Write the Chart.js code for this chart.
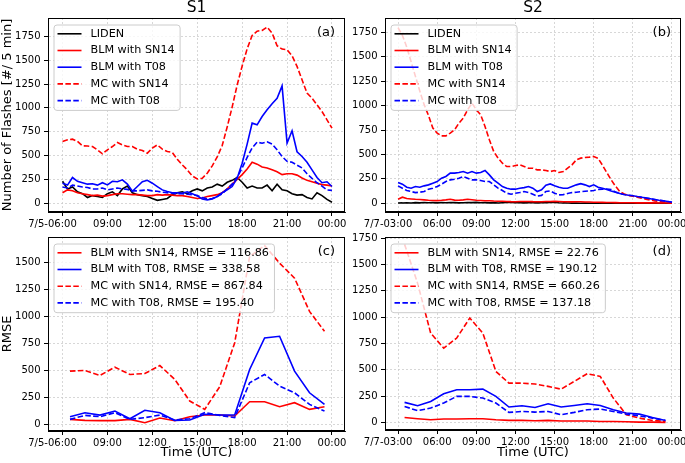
<!DOCTYPE html>
<html>
<head>
<meta charset="utf-8">
<script src="https://cdn.jsdelivr.net/npm/chart.js@4.4.1/dist/chart.umd.min.js"></script>
<style>
  html, body { margin: 0; padding: 0; background: #fff; }
  #wrap { position: relative; width: 685px; height: 463px; overflow: hidden; }
  #wrap canvas { position: absolute; }
</style>
</head>
<body>
<div id="wrap">
  <canvas id="chartA" width="360" height="232" style="left:0;top:0"></canvas>
  <canvas id="chartB" width="345" height="232" style="left:340px;top:0"></canvas>
  <canvas id="chartC" width="360" height="244" style="left:0;top:219px"></canvas>
  <canvas id="chartD" width="345" height="244" style="left:340px;top:219px"></canvas>
</div>
<script>
// ---- data ----
// x ticks (hours after panel start) and their labels
const xTicksS1 = [0, 3, 6, 9, 12, 15, 18];
const xLabelsS1 = ['7/5-06:00', '09:00', '12:00', '15:00', '18:00', '21:00', '00:00'];
const xTicksS2 = [0, 3, 6, 9, 12, 15, 18, 21];
const xLabelsS2 = ['7/7-03:00', '06:00', '09:00', '12:00', '15:00', '18:00', '21:00', '00:00'];
const yTicksFlash = [0, 250, 500, 750, 1000, 1250, 1500, 1750];
const yTicksRmseS1 = [0, 250, 500, 750, 1000, 1250, 1500];
const yTicksRmseS2 = [0, 250, 500, 750, 1000, 1250, 1500, 1750];

const seriesNames = ['LIDEN', 'BLM with SN14', 'BLM with T08', 'MC with SN14', 'MC with T08'];
const rmseNamesS1 = ['BLM with SN14, RMSE = 116.86', 'BLM with T08, RMSE = 338.58',
                     'MC with SN14, RMSE = 867.84', 'MC with T08, RMSE = 195.40'];
const rmseNamesS2 = ['BLM with SN14, RMSE = 22.76', 'BLM with T08, RMSE = 190.12',
                     'MC with SN14, RMSE = 660.26', 'MC with T08, RMSE = 137.18'];

// (a) S1 flashes per 5 min, sampled every 20 min from 7/5 06:00 to 00:00
const lidenS1 = [230,150,170,120,100,60,80,70,60,100,120,80,150,180,110,90,80,70,50,30,40,50,90,110,120,100,130,150,130,160,
                 170,200,180,220,240,270,220,160,180,160,160,190,130,200,140,130,100,85,90,60,45,110,80,40,10];
const blmSn14S1 = [110,140,130,110,100,90,80,85,75,80,90,100,100,95,90,90,85,80,80,90,85,90,85,80,80,70,60,50,55,70,
                   80,90,110,150,200,250,300,360,430,410,380,370,350,330,300,310,310,295,265,240,225,210,195,190,180];
const blmT08S1 = [210,190,270,230,215,200,205,190,215,192,230,225,245,200,125,175,225,240,210,175,140,122,110,110,105,120,100,77,45,35,
                  45,70,110,140,175,262,420,620,840,822,910,980,1043,1100,1230,630,760,540,490,430,350,270,215,225,175];
const mcSn14S1 = [648,665,672,648,602,600,595,560,518,560,595,637,612,595,595,567,553,525,578,612,567,543,532,462,402,350,287,255,262,315,
                  392,485,605,800,1010,1240,1440,1620,1760,1805,1813,1848,1785,1652,1617,1610,1547,1435,1295,1155,1102,1032,962,875,787];
const mcT08S1 = [170,160,190,180,170,165,150,150,160,140,150,160,150,145,130,130,135,140,130,125,115,110,105,100,100,95,90,80,60,45,
                 50,70,100,150,200,270,370,480,580,640,630,645,620,560,490,440,430,400,370,310,260,215,180,140,135];

// (b) S2 flashes per 5 min, sampled every 20 min from 7/7 03:00 to 00:00
const lidenS2 = [2,3,5,3,6,4,8,5,6,4,7,5,8,6,4,5,7,6,9,5,6,4,6,3,5,7,8,6,5,4,6,5,4,6,5,7,8,5,3,2,
                 1,1,0,1,0,0,0,0,0,0,0,0,0,0,0,0,0,0,0,0,0,0,0,0];
const blmSn14S2 = [41,62,48,44,40,38,34,30,28,27,30,34,40,32,30,34,40,35,30,28,25,25,22,20,20,18,16,15,17,18,18,16,
                   15,15,17,18,20,18,15,15,14,15,15,13,12,10,10,9,8,7,6,5,5,5,5,4,4,3,3,3,2,2,2,2];
const blmT08S2 = [212,195,164,154,171,164,178,188,205,222,256,274,308,308,315,325,308,325,308,315,335,290,239,205,171,154,144,144,154,160,171,154,
                  120,137,185,198,178,164,154,154,171,188,200,188,171,188,164,154,140,125,112,100,90,82,76,68,62,54,46,38,30,25,18,10];
const mcSn14S2 = [1800,1720,1600,1450,1300,1150,1010,900,770,718,690,690,718,752,820,872,957,1026,957,906,786,650,530,462,410,376,376,386,393,376,359,359,
                  342,342,335,325,335,315,325,359,393,445,462,468,472,479,460,390,315,240,175,120,95,80,72,62,52,42,33,24,17,11,6,3];
const mcT08S2 = [178,154,130,120,109,113,120,144,154,171,195,222,239,246,256,274,256,239,239,232,222,222,188,154,130,103,92,103,109,120,109,92,
                 72,80,120,126,103,85,88,100,109,113,118,122,126,130,140,144,144,140,115,100,90,82,76,68,62,54,46,38,30,24,17,10];

// (c) S1 hourly RMSE, 06:30 to 23:30
const rmseBlmSn14S1 = [46,37,34,34,46,15,59,34,71,86,86,77,210,210,164,201,139,164];
const rmseBlmT08S1 = [71,108,86,123,52,130,108,37,40,93,86,86,509,802,818,494,293,185];
const rmseMcSn14S1 = [494,500,454,531,463,472,546,417,216,139,349,756,1560,1660,1497,1358,1049,864];
const rmseMcT08S1 = [46,83,71,108,46,62,86,40,52,108,83,62,386,463,355,293,185,123];

// (d) S2 hourly RMSE, 03:30 to 23:30
const rmseBlmSn14S2 = [47,35,25,32,32,35,35,25,19,19,16,19,13,13,13,9,9,6,3,3,0];
const rmseBlmT08S2 = [190,158,199,272,310,310,316,247,146,158,142,177,146,161,177,161,120,89,79,47,19];
const rmseMcSn14S2 = [1690,1320,848,706,801,991,848,484,373,373,364,342,316,389,462,437,231,73,41,19,9];
const rmseMcT08S2 = [152,111,136,184,247,247,231,184,95,104,98,104,73,95,120,127,104,79,63,41,19];

// ---- helpers ----
const FONT = '"DejaVu Sans", sans-serif';

function toPoints(values, start, step) {
  return values.map((v, i) => ({ x: start + i * step, y: v }));
}

function line(label, data, color, dashed, order) {
  return {
    label: label, data: data, borderColor: color, backgroundColor: color,
    borderWidth: 1.6, borderDash: dashed ? [5.5, 2.4] : [], pointRadius: 0,
    tension: 0, fill: false, order: order
  };
}

// draws the top/right spines, panel tag, column title and a matplotlib-style legend
const mplDecor = {
  id: 'mplDecor',
  afterDatasetsDraw(chart, args, opts) {
    const ctx = chart.ctx;
    const a = chart.chartArea;
    ctx.save();

    ctx.strokeStyle = '#000';
    ctx.lineWidth = 1;
    ctx.setLineDash([]);
    ctx.strokeRect(Math.round(a.left) + 0.5, Math.round(a.top) + 0.5,
                   Math.round(a.right - a.left) - 1, Math.round(a.bottom - a.top) - 1);

    // legend
    const sets = chart.data.datasets;
    ctx.font = '11.2px ' + FONT;
    let maxW = 0;
    sets.forEach(d => { maxW = Math.max(maxW, ctx.measureText(d.label).width); });
    const bx = a.left + 5.5, by = a.top + 6.5;
    const bw = 37 + maxW + 5, bh = 18.6 + (sets.length - 1) * 16.7;
    ctx.beginPath();
    ctx.roundRect(bx + 0.5, by + 0.5, bw, bh, 3);
    ctx.fillStyle = 'rgba(255,255,255,0.8)';
    ctx.fill();
    ctx.strokeStyle = '#cccccc';
    ctx.stroke();
    sets.forEach((d, i) => {
      const yy = by + 9.3 + i * 16.7;
      ctx.beginPath();
      ctx.strokeStyle = d.borderColor;
      ctx.lineWidth = d.borderWidth;
      ctx.setLineDash(d.borderDash);
      ctx.moveTo(bx + 4, yy);
      ctx.lineTo(bx + 28, yy);
      ctx.stroke();
      ctx.setLineDash([]);
      ctx.fillStyle = '#000';
      ctx.textAlign = 'left';
      ctx.textBaseline = 'middle';
      ctx.fillText(d.label, bx + 37, yy);
    });

    // panel tag
    ctx.fillStyle = '#000';
    ctx.font = '13px ' + FONT;
    ctx.textAlign = 'right';
    ctx.textBaseline = 'middle';
    ctx.fillText(opts.tag, a.right - 10, a.top + 15);

    if (opts.title) {
      ctx.font = '15.5px ' + FONT;
      ctx.textAlign = 'center';
      ctx.fillText(opts.title, (a.left + a.right) / 2, 8);
    }
    ctx.restore();
  }
};

function makeChart(id, cfg) {
  const gridOpts = { color: '#cdcdcd', lineWidth: 0.8, tickColor: '#000', tickWidth: 1, tickLength: 4 };
  const borderOpts = { display: true, color: '#000', width: 1, dash: [2, 2] };
  return new Chart(document.getElementById(id).getContext('2d'), {
    type: 'line',
    data: { datasets: cfg.datasets },
    options: {
      responsive: false,
      animation: false,
      events: [],
      layout: { padding: { top: 18, right: cfg.padRight, left: 0, bottom: 0 } },
      scales: {
        x: {
          type: 'linear', min: cfg.xMin, max: cfg.xMax,
          afterBuildTicks: s => { s.ticks = cfg.xTicks.map(v => ({ value: v })); },
          afterFit: s => { s.height = cfg.xHeight; s.paddingLeft = 0; s.paddingRight = 0; },
          ticks: {
            autoSkip: false, maxRotation: 0, padding: 2, color: '#000',
            font: { family: FONT, size: 10 },
            // the first (dated) label sits a little left of its tick, as in the original
            callback: v => {
              const i = cfg.xTicks.indexOf(v);
              return i === 0 ? cfg.xLabels[i] + '\u2002\u2002\u2002\u2002' : cfg.xLabels[i];
            }
          },
          grid: gridOpts, border: borderOpts,
          title: {
            display: !!cfg.xTitle, text: cfg.xTitle || '', color: '#000',
            font: { family: FONT, size: 13, lineHeight: 1.2 }, padding: { top: 0, bottom: 3 }
          }
        },
        y: {
          type: 'linear', min: cfg.yMin, max: cfg.yMax,
          afterBuildTicks: s => { s.ticks = cfg.yTicks.map(v => ({ value: v })); },
          afterFit: s => { s.width = cfg.yWidth; s.paddingTop = 0; s.paddingBottom = 0; },
          ticks: {
            padding: 3.5, color: '#000', font: { family: FONT, size: 10 },
            callback: v => String(v)
          },
          grid: gridOpts, border: borderOpts,
          title: {
            display: !!cfg.yTitle, text: cfg.yTitle || '', color: '#000',
            font: { family: FONT, size: 13, lineHeight: 1.1 }, padding: 0
          }
        }
      },
      plugins: {
        legend: { display: false },
        tooltip: { enabled: false },
        mplDecor: { tag: cfg.tag, title: cfg.title }
      }
    },
    plugins: [mplDecor]
  });
}

// (a)
makeChart('chartA', {
  tag: '(a)', title: 'S1', yTitle: 'Number of Flashes [#/ 5 min]',
  xMin: -0.97, xMax: 18.87, yMin: -92, yMax: 1943,
  xTicks: xTicksS1, xLabels: xLabelsS1, yTicks: yTicksFlash,
  yWidth: 48, xHeight: 20, padRight: 15,
  datasets: [
    line(seriesNames[0], toPoints(lidenS1, 0, 1 / 3), '#000000', false, 5),
    line(seriesNames[1], toPoints(blmSn14S1, 0, 1 / 3), '#ff0000', false, 4),
    line(seriesNames[2], toPoints(blmT08S1, 0, 1 / 3), '#0000ff', false, 3),
    line(seriesNames[3], toPoints(mcSn14S1, 0, 1 / 3), '#ff0000', true, 2),
    line(seriesNames[4], toPoints(mcT08S1, 0, 1 / 3), '#0000ff', true, 1)
  ]
});

// (b)
makeChart('chartB', {
  tag: '(b)', title: 'S2',
  xMin: -1.0, xMax: 21.69, yMin: -90, yMax: 1898,
  xTicks: xTicksS2, xLabels: xLabelsS2, yTicks: yTicksFlash,
  yWidth: 45, xHeight: 20, padRight: 4,
  datasets: [
    line(seriesNames[0], toPoints(lidenS2, 0, 1 / 3), '#000000', false, 5),
    line(seriesNames[1], toPoints(blmSn14S2, 0, 1 / 3), '#ff0000', false, 4),
    line(seriesNames[2], toPoints(blmT08S2, 0, 1 / 3), '#0000ff', false, 3),
    line(seriesNames[3], toPoints(mcSn14S2, 0, 1 / 3), '#ff0000', true, 2),
    line(seriesNames[4], toPoints(mcT08S2, 0, 1 / 3), '#0000ff', true, 1)
  ]
});

// (c)
makeChart('chartC', {
  tag: '(c)', yTitle: 'RMSE', xTitle: 'Time (UTC)',
  xMin: -0.97, xMax: 18.87, yMin: -62, yMax: 1740,
  xTicks: xTicksS1, xLabels: xLabelsS1, yTicks: yTicksRmseS1,
  yWidth: 48, xHeight: 32, padRight: 15,
  datasets: [
    line(rmseNamesS1[0], toPoints(rmseBlmSn14S1, 0.5, 1), '#ff0000', false, 4),
    line(rmseNamesS1[1], toPoints(rmseBlmT08S1, 0.5, 1), '#0000ff', false, 3),
    line(rmseNamesS1[2], toPoints(rmseMcSn14S1, 0.5, 1), '#ff0000', true, 2),
    line(rmseNamesS1[3], toPoints(rmseMcT08S1, 0.5, 1), '#0000ff', true, 1)
  ]
});

// (d)
makeChart('chartD', {
  tag: '(d)', xTitle: 'Time (UTC)',
  xMin: -1.0, xMax: 21.69, yMin: -72, yMax: 1760,
  xTicks: xTicksS2, xLabels: xLabelsS2, yTicks: yTicksRmseS2,
  yWidth: 45, xHeight: 33, padRight: 4,
  datasets: [
    line(rmseNamesS2[0], toPoints(rmseBlmSn14S2, 0.5, 1), '#ff0000', false, 4),
    line(rmseNamesS2[1], toPoints(rmseBlmT08S2, 0.5, 1), '#0000ff', false, 3),
    line(rmseNamesS2[2], toPoints(rmseMcSn14S2, 0.5, 1), '#ff0000', true, 2),
    line(rmseNamesS2[3], toPoints(rmseMcT08S2, 0.5, 1), '#0000ff', true, 1)
  ]
});
</script>
</body>
</html>
